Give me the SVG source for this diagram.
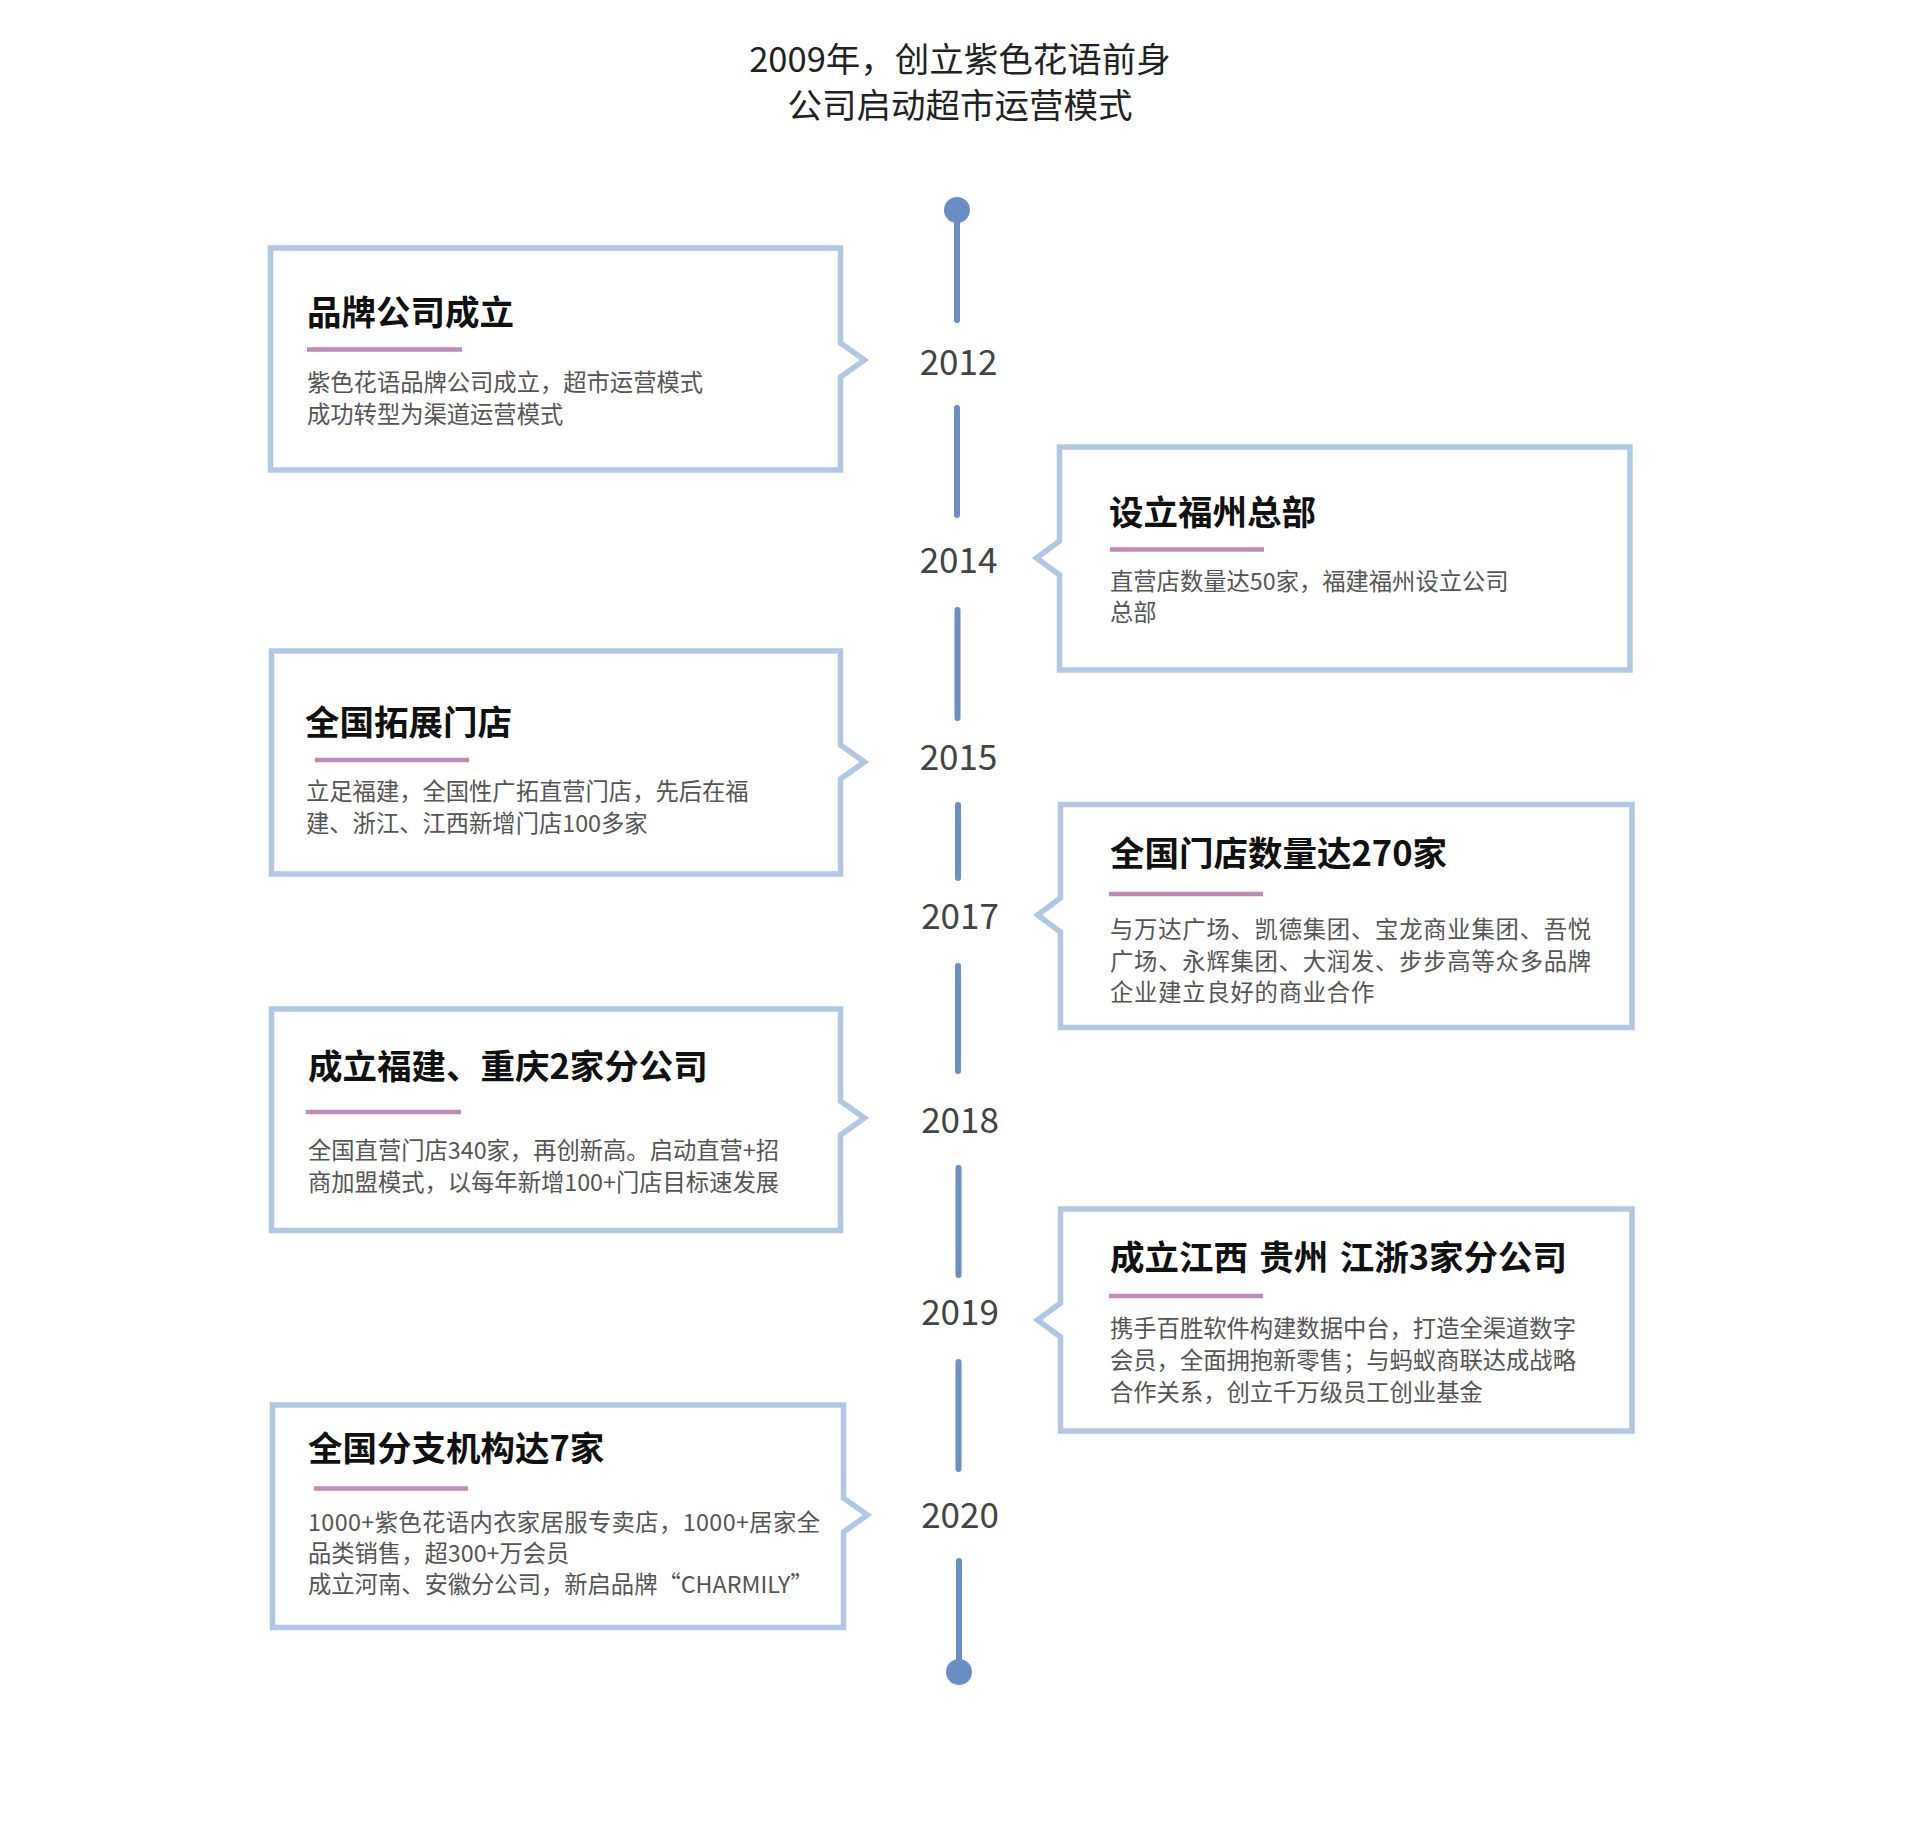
<svg xmlns="http://www.w3.org/2000/svg" width="1920" height="1844" viewBox="0 0 1920 1844">
<style>
text{font-family:"Noto Sans CJK SC","Noto Sans",sans-serif}
.head{font-size:34.5px;fill:#222;text-anchor:middle}
.box{fill:#fff;stroke:#b2c7e4;stroke-width:5.5;stroke-linejoin:miter}
.tl{stroke:#6a8fc4;stroke-width:6;stroke-linecap:round}
.dot{fill:#6a8fc4}
.year{font-size:35px;fill:#444;text-anchor:middle}
.ttl{font-size:34.5px;font-weight:bold;fill:#111}
.bar{stroke:#c28bb6;stroke-width:4.5}
.desc{font-size:23.3px;fill:#555}
</style>
<rect width="1920" height="1844" fill="#fff"/>
<g id="header">
<text class="head" x="960" y="72">2009年，创立紫色花语前身</text>
<text class="head" x="960" y="118">公司启动超市运营模式</text>
</g>
<g id="connectors">
<circle class="dot" cx="957" cy="210" r="13"/>
<line class="tl" x1="957" y1="212" x2="957" y2="320"/>
<line class="tl" x1="957" y1="408" x2="957" y2="515"/>
<line class="tl" x1="957.5" y1="610" x2="957.5" y2="718"/>
<line class="tl" x1="958" y1="805" x2="958" y2="878"/>
<line class="tl" x1="958" y1="966" x2="958" y2="1071"/>
<line class="tl" x1="958.5" y1="1168" x2="958.5" y2="1275"/>
<line class="tl" x1="958.5" y1="1362" x2="958.5" y2="1469"/>
<line class="tl" x1="959" y1="1561" x2="959" y2="1670"/>
<circle class="dot" cx="959" cy="1672" r="13"/>
</g>
<g id="years">
<text class="year" x="958.5" y="375">2012</text>
<text class="year" x="958.5" y="573">2014</text>
<text class="year" x="958.5" y="770">2015</text>
<text class="year" x="960" y="929">2017</text>
<text class="year" x="960" y="1133">2018</text>
<text class="year" x="960" y="1325">2019</text>
<text class="year" x="960" y="1528">2020</text>
</g>
<g id="node-2012">
<path class="box" d="M270.5 248H840.5V343L864.5 360L840.5 377V470H270.5Z"/>
<text class="ttl" x="307" y="325">品牌公司成立</text>
<line class="bar" x1="307" y1="349.5" x2="462" y2="349.5"/>
<text class="desc" x="307" y="391">紫色花语品牌公司成立，超市运营模式</text>
<text class="desc" x="307" y="423">成功转型为渠道运营模式</text>
</g>
<g id="node-2014">
<path class="box" d="M1059.5 447H1630V670H1059.5V575L1036.5 558L1059.5 541Z"/>
<text class="ttl" x="1109" y="525">设立福州总部</text>
<line class="bar" x1="1110" y1="549.5" x2="1264" y2="549.5"/>
<text class="desc" x="1110" y="590">直营店数量达50家，福建福州设立公司</text>
<text class="desc" x="1110" y="621">总部</text>
</g>
<g id="node-2015">
<path class="box" d="M271.5 651H840.5V745L864.5 762L840.5 779V874H271.5Z"/>
<text class="ttl" x="305" y="735">全国拓展门店</text>
<line class="bar" x1="315" y1="760" x2="469" y2="760"/>
<text class="desc" x="306" y="800">立足福建，全国性广拓直营门店，先后在福</text>
<text class="desc" x="306" y="832">建、浙江、江西新增门店100多家</text>
</g>
<g id="node-2017">
<path class="box" d="M1060.5 804.5H1632V1027.5H1060.5V932L1037.5 915L1060.5 898Z"/>
<text class="ttl" x="1110" y="866">全国门店数量达270家</text>
<line class="bar" x1="1109" y1="894" x2="1263" y2="894"/>
<text class="desc" x="1110" y="938" letter-spacing="0.8">与万达广场、凯德集团、宝龙商业集团、吾悦</text>
<text class="desc" x="1110" y="970" letter-spacing="0.8">广场、永辉集团、大润发、步步高等众多品牌</text>
<text class="desc" x="1110" y="1001" letter-spacing="0.8">企业建立良好的商业合作</text>
</g>
<g id="node-2018">
<path class="box" d="M271.5 1009H840.5V1101L864.5 1118L840.5 1135V1230.5H271.5Z"/>
<text class="ttl" x="308" y="1079">成立福建、重庆2家分公司</text>
<line class="bar" x1="306" y1="1112" x2="461" y2="1112"/>
<text class="desc" x="308" y="1159">全国直营门店340家，再创新高。启动直营+招</text>
<text class="desc" x="308" y="1191">商加盟模式，以每年新增100+门店目标速发展</text>
</g>
<g id="node-2019">
<path class="box" d="M1060.5 1209H1632V1431H1060.5V1337L1037.5 1320L1060.5 1303Z"/>
<text class="ttl" x="1110" y="1270" style="word-spacing:3.5px">成立江西 贵州 江浙3家分公司</text>
<line class="bar" x1="1109" y1="1296" x2="1263" y2="1296"/>
<text class="desc" x="1110" y="1337">携手百胜软件构建数据中台，打造全渠道数字</text>
<text class="desc" x="1110" y="1369">会员，全面拥抱新零售；与蚂蚁商联达成战略</text>
<text class="desc" x="1110" y="1401">合作关系，创立千万级员工创业基金</text>
</g>
<g id="node-2020">
<path class="box" d="M272.5 1405H843.5V1498L867.5 1515L843.5 1532V1627.5H272.5Z"/>
<text class="ttl" x="308" y="1461">全国分支机构达7家</text>
<line class="bar" x1="314" y1="1488.5" x2="468" y2="1488.5"/>
<text class="desc" x="308" y="1531" letter-spacing="0.4">1000+紫色花语内衣家居服专卖店，1000+居家全</text>
<text class="desc" x="308" y="1562">品类销售，超300+万会员</text>
<text class="desc" x="308" y="1593">成立河南、安徽分公司，新启品牌“CHARMILY”</text>
</g>
</svg>
